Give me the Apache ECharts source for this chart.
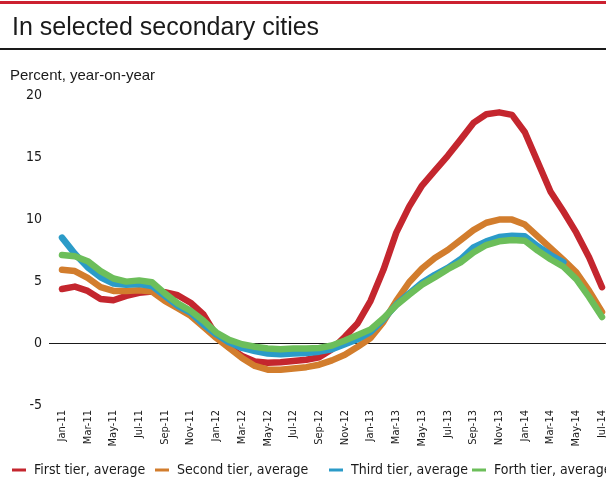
<!DOCTYPE html>
<html>
<head>
<meta charset="utf-8">
<script src="https://cdn.jsdelivr.net/npm/echarts@6/dist/echarts.min.js"></script>
<style>
  html, body { margin: 0; padding: 0; background: #ffffff; }
  #chart { width: 606px; height: 479px; }
</style>
</head>
<body>
<div id="chart"></div>
<script>
// Monthly categories, Jan-11 .. Jul-14
const months = [
  'Jan-11','Feb-11','Mar-11','Apr-11','May-11','Jun-11','Jul-11','Aug-11','Sep-11','Oct-11','Nov-11','Dec-11',
  'Jan-12','Feb-12','Mar-12','Apr-12','May-12','Jun-12','Jul-12','Aug-12','Sep-12','Oct-12','Nov-12','Dec-12',
  'Jan-13','Feb-13','Mar-13','Apr-13','May-13','Jun-13','Jul-13','Aug-13','Sep-13','Oct-13','Nov-13','Dec-13',
  'Jan-14','Feb-14','Mar-14','Apr-14','May-14','Jun-14','Jul-14'
];

// Year-on-year change in percent, by city tier
const firstTier = [
  4.35, 4.55, 4.2, 3.55, 3.45, 3.8, 4.05, 4.15, 4.1, 3.85, 3.25, 2.3,
  0.6, -0.35, -1.05, -1.5, -1.6, -1.55, -1.45, -1.35, -1.15, -0.5, 0.5, 1.6,
  3.4, 5.9, 8.9, 11.0, 12.7, 13.9, 15.1, 16.4, 17.75, 18.45, 18.6, 18.4,
  17.0, 14.6, 12.2, 10.6, 8.9, 6.9, 4.5
];
const secondTier = [
  5.9, 5.8, 5.25, 4.5, 4.2, 4.2, 4.25, 4.15, 3.4, 2.8, 2.2, 1.3,
  0.4, -0.4, -1.2, -1.85, -2.15, -2.15, -2.05, -1.95, -1.75, -1.4, -0.95, -0.3,
  0.4, 1.7, 3.4, 4.9, 6.0, 6.85, 7.5, 8.3, 9.1, 9.7, 9.95, 9.95,
  9.55, 8.6, 7.65, 6.7, 5.7, 4.2, 2.5
];
const thirdTier = [
  8.5, 7.2, 6.1, 5.3, 4.8, 4.7, 4.75, 4.6, 3.8, 3.0, 2.45, 1.5,
  0.7, 0.05, -0.4, -0.65, -0.85, -0.9, -0.85, -0.8, -0.7, -0.5, -0.1, 0.3,
  0.9, 1.9, 3.1, 4.0, 4.85, 5.5, 6.05, 6.75, 7.7, 8.2, 8.55, 8.65,
  8.6, 7.8, 7.1, 6.5
];
const forthTier = [
  7.1, 7.0, 6.6, 5.8, 5.2, 4.95, 5.05, 4.9, 4.0, 3.2, 2.6, 1.8,
  0.85, 0.25, -0.1, -0.3, -0.45, -0.5, -0.45, -0.45, -0.4, -0.2, 0.2, 0.65,
  1.1, 2.0, 3.05, 3.9, 4.7, 5.3, 5.95, 6.5, 7.3, 7.9, 8.2, 8.3,
  8.25, 7.45, 6.75, 6.15, 5.15, 3.7, 2.1
];

const seriesNames = ['First tier, average', 'Second tier, average', 'Third tier, average', 'Forth tier, average'];
const seriesColors = ['#c4262e', '#d27d2d', '#2b9bc8', '#6cbe5a'];
const seriesValues = [firstTier, secondTier, thirdTier, forthTier];

// Y axis ticks
const yMin = -5, yMax = 20, yStep = 5;

// Labelled months: every second month
const labelIdx = months.map((m, i) => i).filter(i => i % 2 === 0);

const narrow = '"Liberation Sans Narrow", "DejaVu Sans Condensed", "Liberation Sans", sans-serif';
const regular = '"Liberation Sans", Arial, sans-serif';

const chart = echarts.init(document.getElementById('chart'), null, { renderer: 'canvas' });

const legendLeft = [12, 155, 329, 472];

chart.setOption({
  animation: false,
  backgroundColor: '#ffffff',
  title: [
    {
      text: 'In selected secondary cities',
      left: 7, top: 11,
      textStyle: { fontFamily: regular, fontSize: 25, fontWeight: 'normal', color: '#1a1a1a' }
    },
    {
      text: 'Percent, year-on-year',
      left: 5, top: 63,
      textStyle: { fontFamily: regular, fontSize: 15, fontWeight: 'normal', color: '#1a1a1a' }
    }
  ],
  graphic: [
    { type: 'rect', left: 0, top: 1, shape: { width: 606, height: 3 }, style: { fill: '#cc2030' }, silent: true },
    { type: 'rect', left: 0, top: 48, shape: { width: 606, height: 2 }, style: { fill: '#1a1a1a' }, silent: true }
  ],
  legend: seriesNames.map((name, k) => ({
    data: [name],
    left: legendLeft[k], top: 463,
    padding: 0,
    icon: 'rect', itemWidth: 14, itemHeight: 3,
    selectedMode: false,
    textStyle: { fontFamily: narrow, fontSize: 14, color: '#1a1a1a', padding: [0, 0, 0, 3] }
  })),
  grid: { left: 49, right: 0, top: 95, bottom: 74, outerBoundsMode: 'none', containLabel: false },
  xAxis: {
    type: 'value',
    min: -1.01, max: 42.31,
    axisLine: { show: false },
    axisTick: { show: false },
    splitLine: { show: false },
    axisLabel: {
      customValues: labelIdx,
      rotate: 90,
      margin: 5,
      fontFamily: narrow, fontSize: 11, color: '#1a1a1a',
      formatter: v => months[v]
    }
  },
  yAxis: {
    type: 'value',
    min: yMin, max: yMax, interval: yStep,
    axisLine: { show: false },
    axisTick: { show: false },
    axisLabel: { margin: 7, fontFamily: narrow, fontSize: 14, color: '#1a1a1a' },
    // only the zero line is visible
    splitLine: {
      show: true,
      lineStyle: { width: 1, color: ['rgba(0,0,0,0)', '#1a1a1a', 'rgba(0,0,0,0)', 'rgba(0,0,0,0)', 'rgba(0,0,0,0)', 'rgba(0,0,0,0)'] }
    }
  },
  series: seriesValues.map((vals, k) => ({
    name: seriesNames[k],
    type: 'line',
    data: vals.map((v, i) => [i, v]),
    symbol: 'none',
    smooth: false,
    color: seriesColors[k],
    lineStyle: { width: 6.5, color: seriesColors[k], cap: 'round', join: 'round' },
    z: 2 + k
  }))
});
</script>
</body>
</html>
